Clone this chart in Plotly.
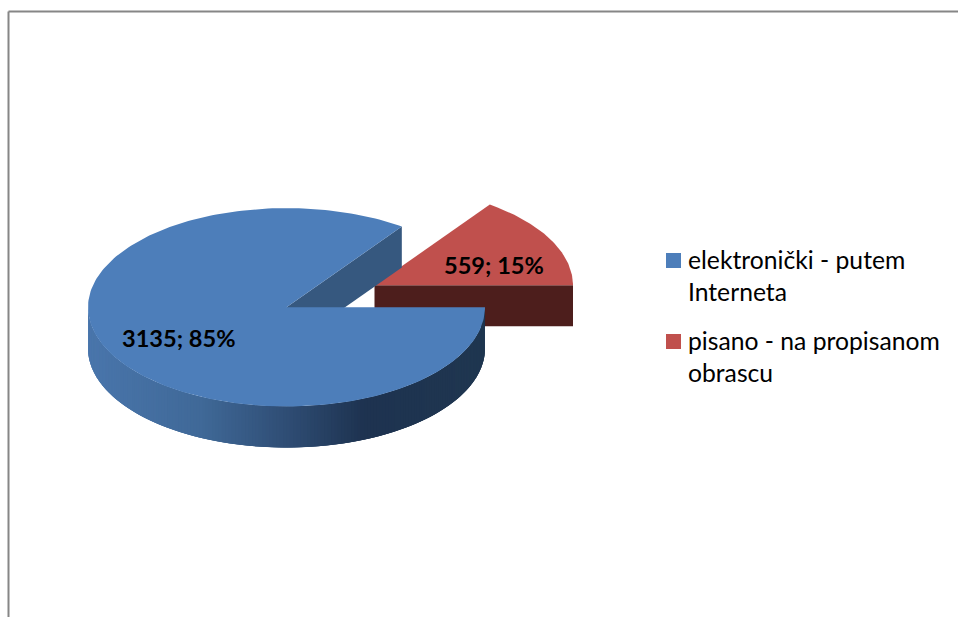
import numpy as np
import plotly.graph_objects as go

categories = ["elektronički - putem Interneta", "pisano - na propisanom obrascu"]
legend_lines = [["elektronički - putem", "Interneta"], ["pisano - na propisanom", "obrascu"]]
values = [3135, 559]
top_colors = ["#4D7EBA", "#C0504D"]
wall_colors = ["#36587F", "#4D1E1C"]

W, H = 958, 617
CX, CY, RX, RY, DEPTH = 286.5, 307.3, 198.5, 99.2, 41
OFFSET = (88, -22)
FONT = "Lato"

total = sum(values)
red_sweep = 360 * values[1] / total


def pt(deg, cx=CX, cy=CY):
    t = np.radians(deg)
    return cx + RX * np.cos(t), cy - RY * np.sin(t)


def poly(xs, ys, color):
    return go.Scatter(x=list(xs), y=list(ys), mode="lines", fill="toself", fillcolor=color,
                      line=dict(width=0), hoverinfo="skip", showlegend=False)


def lerp_color(x):
    stops = [(87, (74, 118, 172)), (200, (64, 105, 152)), (287, (47, 77, 116)),
             (363, (30, 51, 80)), (485, (32, 55, 80))]
    xs = [s[0] for s in stops]
    c = [np.interp(x, xs, [s[1][i] for s in stops]) for i in range(3)]
    return "rgb(%d,%d,%d)" % tuple(c)


fig = go.Figure()

# exploded slice: cut wall, then top
rcx, rcy = CX + OFFSET[0], CY + OFFSET[1]
a = np.linspace(0, red_sweep, 60)
ex, ey = pt(a, rcx, rcy)
fig.add_trace(poly([rcx, rcx + RX, rcx + RX, rcx, rcx], [rcy, rcy, rcy + DEPTH, rcy + DEPTH, rcy], wall_colors[1]))
fig.add_trace(poly([rcx, *ex, rcx], [rcy, *ey, rcy], top_colors[1]))

# main slice: inner wall
tx, ty = pt(red_sweep)
fig.add_trace(poly([CX, tx, tx, CX, CX], [CY, ty, ty + DEPTH, CY + DEPTH, CY], wall_colors[0]))

# main slice: shaded outer wall, painted left to right; each strip runs under the next ones
edges = np.linspace(180, 360, 181)
for i, a0 in enumerate(edges[:-1]):
    sa = edges[i:min(i + 4, len(edges))]
    sx, sy = pt(sa)
    fig.add_trace(poly([*sx, *sx[::-1], sx[0]], [*sy, *(sy[::-1] + DEPTH), sy[0]], lerp_color(sx[0])))

# main slice: top
a = np.linspace(red_sweep, 360, 240)
ex, ey = pt(a)
fig.add_trace(poly([CX, *ex, CX], [CY, *ey, CY], top_colors[0]))

# legend swatches
swatch_y = [260.5, 341.5]
fig.add_trace(go.Scatter(x=[673.5, 673.5], y=swatch_y, mode="markers",
                         marker=dict(symbol="square", size=15, color=top_colors),
                         hoverinfo="skip", showlegend=False))

annotations = []
label_pos = [(178.5, 338), (493.5, 265)]
for v, (x, y) in zip(values, label_pos):
    annotations.append(dict(x=x, y=y, text=f"{v}; {round(v / total * 100)}%", showarrow=False,
                            font=dict(family=FONT, size=23.6, color="#000000", weight="bold"),
                            xanchor="center", yanchor="middle"))
line_y = [[259.5, 291.5], [340.5, 372.5]]
for lines, ys in zip(legend_lines, line_y):
    for t, y in zip(lines, ys):
        annotations.append(dict(x=688, y=y, text=t, showarrow=False,
                                font=dict(family=FONT, size=24.7, color="#000000"),
                                xanchor="left", yanchor="middle", xshift=-2))

shapes = [
    dict(type="line", x0=8.5, x1=W, y0=11.5, y1=11.5, line=dict(color="#868686", width=2)),
    dict(type="line", x0=8.5, x1=8.5, y0=11.5, y1=H, line=dict(color="#868686", width=2)),
]

fig.update_layout(
    width=W, height=H, margin=dict(l=0, r=0, t=0, b=0),
    paper_bgcolor="white", plot_bgcolor="white", showlegend=False,
    xaxis=dict(range=[0, W], visible=False, fixedrange=True),
    yaxis=dict(range=[H, 0], visible=False, fixedrange=True),
    annotations=annotations, shapes=shapes,
)
fig.write_html("out.html", config={"displayModeBar": False},
               post_script="document.body.style.margin='0';document.body.style.overflow='hidden';")
